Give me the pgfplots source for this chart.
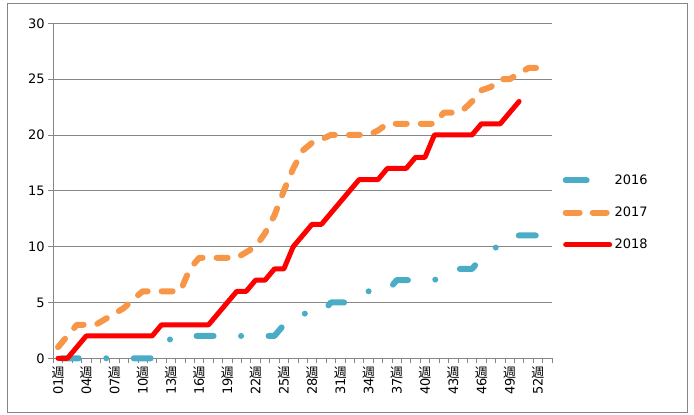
\documentclass[border=0pt]{standalone}
\usepackage{pgfplots}
\usepackage{pgfplotstable}
\pgfplotsset{compat=1.18}
\usepackage{fontspec}
\setmainfont{DejaVu Sans}
\newfontfamily\cjk{Noto Sans CJK JP}
\usepackage{graphicx}

\definecolor{c16}{RGB}{75,172,198}
\definecolor{c17}{RGB}{247,150,70}
\definecolor{c18}{RGB}{255,0,0}
\definecolor{gridc}{RGB}{134,134,134}

\newcommand{\wk}{\rotatebox[origin=c]{-90}{\cjk 週}}

\pgfplotstableread{
w v
1 0
2 0
3 0
4 0
5 0
6 0
7 0
8 0
9 0
10 0
11 0
12 0.7
13 1.8
14 2
15 2
16 2
17 2
18 2
19 2
20 2
21 2
22 2
23 2
24 2
25 3
26 3.5
27 4
28 4
29 4
30 5
31 5
32 5
33 5.5
34 6
35 6
36 6
37 7
38 7
39 7
40 7
41 7
42 7.5
43 8
44 8
45 8
46 9
47 9.5
48 10.3
49 11
50 11
51 11
52 11
}\tblA

\pgfplotstableread{
w v
1 1
2 2
3 3
4 3
5 3
6 3.5
7 4
8 4.5
9 5.3
10 6
11 6
12 6
13 6
14 6
15 8
16 9
17 9
18 9
19 9
20 9
21 9.5
22 10
23 11.2
24 12.8
25 15
26 17
27 18.6
28 19.3
29 19.6
30 20
31 20
32 20
33 20
34 20
35 20.4
36 21
37 21
38 21
39 21
40 21
41 21
42 22
43 22
44 22.2
45 23
46 24
47 24.3
48 25
49 25
50 25.5
51 26
52 26
}\tblB

\pgfplotstableread{
w v
1 0
2 0
3 1
4 2
5 2
6 2
7 2
8 2
9 2
10 2
11 2
12 3
13 3
14 3
15 3
16 3
17 3
18 4
19 5
20 6
21 6
22 7
23 7
24 8
25 8
26 10
27 11
28 12
29 12
30 13
31 14
32 15
33 16
34 16
35 16
36 17
37 17
38 17
39 18
40 18
41 20
42 20
43 20
44 20
45 20
46 21
47 21
48 21
49 22
50 23
}\tblC

\begin{document}
\begin{tikzpicture}
\useasboundingbox (0pt,0pt) rectangle (694pt,415pt);
\draw[gridc, line width=0.8pt] (7pt,3pt) rectangle (687pt,412pt);
\begin{axis}[
  at={(53.3pt,56.7pt)}, anchor=south west,
  scale only axis, width=498.7pt, height=335pt,
  xmin=0.5, xmax=53.5, ymin=0, ymax=30,
  axis lines*=left,
  axis line style={gridc, line width=0.9pt},
  ytick={0,5,...,30},
  ymajorgrids,
  major grid style={gridc, line width=0.9pt},
  tick align=outside,
  major tick length=5pt, minor tick length=5pt,
  ytick style={gridc, line width=0.8pt},
  xtick={1,4,...,52},
  xticklabels={01\wk,04\wk,07\wk,10\wk,13\wk,16\wk,19\wk,22\wk,25\wk,28\wk,31\wk,34\wk,37\wk,40\wk,43\wk,46\wk,49\wk,52\wk},
  major x tick style={draw=none},
  minor xtick={0.5,1.5,...,53.5},
  minor x tick style={gridc, line width=0.8pt},
  xticklabel style={rotate=90, anchor=east, font=\fontsize{13}{15}\selectfont},
  yticklabel style={font=\fontsize{13}{15}\selectfont},
  /pgf/number format/assume math mode=true,
  clip=false,
  legend image code/.code={\draw[#1] (0pt,0pt) -- (44pt,0pt);},
  legend style={at={(1.015,0.435)}, anchor=west, draw=none, fill=none,
    font=\fontsize{13}{15}\selectfont, row sep=17pt},
  legend cell align=left,
]
\addplot[forget plot, c16, line width=6pt, line cap=round, line join=round,
  dash pattern=on 17pt off 27.5pt on 0.01pt off 27.5pt, dash phase=68.3pt] table[x=w,y=v] {\tblA};
\addplot[forget plot, c17, line width=6pt, line cap=round, line join=round,
  dash pattern=on 11pt off 14pt] table[x=w,y=v] {\tblB};
\addplot[forget plot, c18, line width=5pt, line cap=round, line join=round] table[x=w,y=v] {\tblC};
\addlegendimage{c16, line width=6pt, line cap=round, dash pattern=on 21pt off 40pt}
\addlegendentry{2016}
\addlegendimage{c17, line width=6pt, line cap=round, dash pattern=on 14pt off 13pt on 14pt off 20pt}
\addlegendentry{2017}
\addlegendimage{c18, line width=5pt, line cap=round}
\addlegendentry{2018}
\end{axis}
\end{tikzpicture}
\end{document}
